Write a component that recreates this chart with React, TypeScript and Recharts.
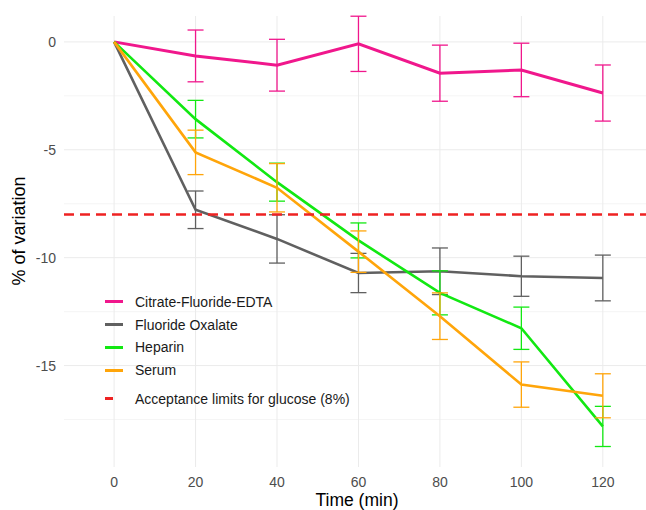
import React from "react";
import { LineChart, Line, XAxis, YAxis, ReferenceLine, ErrorBar, Legend } from "recharts";

const FONT = '"Liberation Sans", Arial, Helvetica, sans-serif';

const times = [0, 20, 40, 60, 80, 100, 120];
const yTicks = [0, -5, -10, -15];
const minorY = [-2.5, -7.5, -12.5, -17.5];

const citrate = [0, -0.65, -1.08, -0.09, -1.45, -1.3, -2.37];
const citrateErr = [0, 1.2, 1.2, 1.28, 1.3, 1.24, 1.3];
const fluoride = [0, -7.78, -9.13, -10.71, -10.63, -10.86, -10.94];
const fluorideErr = [0, 0.87, 1.12, 0.91, 1.08, 0.93, 1.06];
const heparin = [0, -3.58, -6.5, -9.2, -11.63, -13.27, -17.82];
const heparinErr = [0, 0.87, 0.88, 0.81, 1.02, 0.98, 0.93];
const serum = [0, -5.12, -6.76, -9.72, -12.71, -15.88, -16.4];
const serumErr = [0, 1.03, 1.12, 0.96, 1.08, 1.05, 1.02];

const limit = -8;

const PINK = "#f0178c";
const GREY = "#606060";
const GREEN = "#12e812";
const ORANGE = "#ffa50a";
const RED = "#ee2222";

const legendItems = [
  { name: "Citrate-Fluoride-EDTA", color: PINK },
  { name: "Fluoride Oxalate", color: GREY },
  { name: "Heparin", color: GREEN },
  { name: "Serum", color: ORANGE },
];

const data = times.map((t, i) => ({
  time: t,
  citrate: citrate[i],
  citrateErr: citrateErr[i],
  fluoride: fluoride[i],
  fluorideErr: fluorideErr[i],
  heparin: heparin[i],
  heparinErr: heparinErr[i],
  serum: serum[i],
  serumErr: serumErr[i],
}));

function renderLegend() {
  const row: React.CSSProperties = { display: "flex", alignItems: "center", height: 22.7 };
  return (
    <div style={{ fontFamily: FONT, fontSize: 14, color: "#1a1a1a" }}>
      {legendItems.map((it) => (
        <div key={it.name} style={row}>
          <span style={{ width: 18, marginLeft: 5, height: 3, background: it.color, display: "inline-block" }} />
          <span style={{ marginLeft: 12 }}>{it.name}</span>
        </div>
      ))}
      <div style={{ ...row, marginTop: 6 }}>
        <span style={{ width: 18, marginLeft: 5, display: "inline-block" }}>
          <span style={{ width: 8, height: 2.5, background: RED, display: "block" }} />
        </span>
        <span style={{ marginLeft: 12 }}>Acceptance limits for glucose (8%)</span>
      </div>
    </div>
  );
}

export default function App() {
  const tick = { fill: "#4d4d4d", fontSize: 14, fontFamily: FONT };
  return (
    <div style={{ position: "absolute", left: 0, top: 0, width: 646, height: 510, background: "#fff", fontFamily: FONT }}>
      <LineChart width={646} height={510} data={data} margin={{ top: 16, right: 0, bottom: 0, left: 0 }}>
        {minorY.map((v) => (
          <ReferenceLine key={"m" + v} y={v} stroke="#f2f2f2" strokeWidth={0.8} />
        ))}
        {yTicks.map((v) => (
          <ReferenceLine key={"y" + v} y={v} stroke="#ebebeb" strokeWidth={1} />
        ))}
        {times.map((v) => (
          <ReferenceLine key={"x" + v} x={v} stroke="#ebebeb" strokeWidth={1} />
        ))}
        <XAxis
          type="number"
          dataKey="time"
          domain={[-12.3, 130.6]}
          allowDataOverflow
          ticks={times}
          interval={0}
          axisLine={false}
          tickLine={false}
          tickSize={0}
          tickMargin={10}
          height={43}
          tick={tick}
        />
        <YAxis
          type="number"
          domain={[-19.7, 1.2]}
          allowDataOverflow
          ticks={yTicks}
          interval={0}
          axisLine={false}
          tickLine={false}
          tickSize={0}
          tickMargin={8}
          width={64}
          tick={tick}
        />
        <Line dataKey="citrate" stroke={PINK} strokeWidth={3} dot={false} isAnimationActive={false}>
          <ErrorBar dataKey="citrateErr" width={8} stroke={PINK} strokeWidth={1.3} direction="y" />
        </Line>
        <Line dataKey="fluoride" stroke={GREY} strokeWidth={2.6} dot={false} isAnimationActive={false}>
          <ErrorBar dataKey="fluorideErr" width={8} stroke={GREY} strokeWidth={1.3} direction="y" />
        </Line>
        <Line dataKey="heparin" stroke={GREEN} strokeWidth={2.6} dot={false} isAnimationActive={false}>
          <ErrorBar dataKey="heparinErr" width={8} stroke={GREEN} strokeWidth={1.3} direction="y" />
        </Line>
        <Line dataKey="serum" stroke={ORANGE} strokeWidth={2.6} dot={false} isAnimationActive={false}>
          <ErrorBar dataKey="serumErr" width={8} stroke={ORANGE} strokeWidth={1.3} direction="y" />
        </Line>
        <ReferenceLine y={limit} stroke={RED} strokeWidth={2.5} strokeDasharray="10 6" />
        <Legend
          layout="vertical"
          align="center"
          verticalAlign="middle"
          wrapperStyle={{ left: 100, top: 290.6, width: 300 }}
          content={renderLegend}
        />
      </LineChart>
      <div
        style={{
          position: "absolute",
          left: 257,
          top: 490,
          width: 200,
          textAlign: "center",
          fontSize: 17.5,
          lineHeight: "20px",
          color: "#000",
        }}
      >
        Time (min)
      </div>
      <div
        style={{
          position: "absolute",
          left: 19 - 100,
          top: 231 - 10,
          width: 200,
          height: 20,
          lineHeight: "20px",
          textAlign: "center",
          fontSize: 18,
          color: "#000",
          transform: "rotate(-90deg)",
        }}
      >
        % of variation
      </div>
    </div>
  );
}
